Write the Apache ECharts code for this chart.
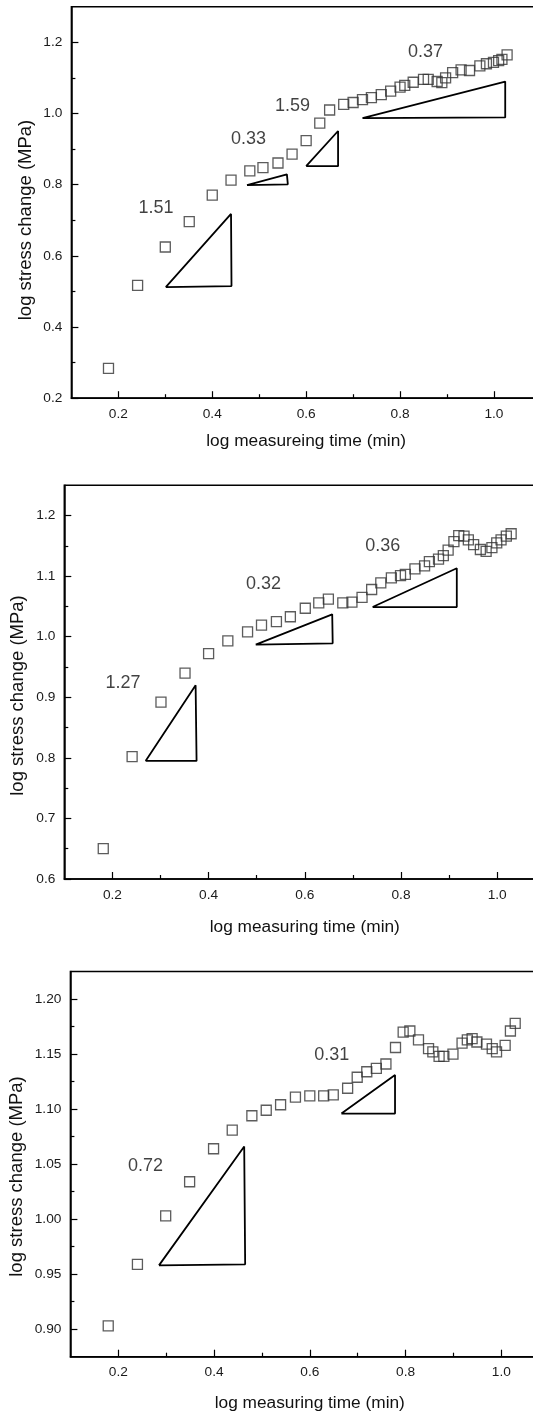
<!DOCTYPE html>
<html>
<head>
<meta charset="utf-8">
<script src="https://cdn.jsdelivr.net/npm/echarts@6/dist/echarts.min.js"></script>
<style>html,body{margin:0;padding:0;background:#fff;overflow:hidden}#c{width:533px;height:1412px}</style>
</head>
<body>
<div id="c"></div>
<script>
// ---------- Panel 1 ----------
const p1x = [0.179,0.241,0.300,0.351,0.400,0.440,0.480,0.508,0.540,0.570,0.600,0.629,0.650,0.680,0.700,0.720,0.739,0.760,0.780,0.800,0.810,0.828,0.850,0.860,0.879,0.889,0.897,0.912,0.930,0.948,0.970,0.984,0.999,1.010,1.017,1.028];
const p1y = [0.284,0.517,0.625,0.696,0.771,0.813,0.839,0.848,0.861,0.886,0.924,0.973,1.010,1.026,1.031,1.039,1.045,1.053,1.063,1.074,1.079,1.088,1.096,1.096,1.090,1.087,1.100,1.115,1.123,1.121,1.134,1.140,1.144,1.149,1.152,1.165];
const p1Tri = [
  [[0.301,0.512],[0.441,0.515],[0.440,0.718],[0.301,0.512]],
  [[0.474,0.799],[0.561,0.801],[0.559,0.829],[0.474,0.799]],
  [[0.600,0.852],[0.668,0.852],[0.668,0.951],[0.600,0.852]],
  [[0.720,0.987],[1.024,0.989],[1.024,1.090],[0.720,0.987]]
];
const p1Labels = ["1.51","0.33","1.59","0.37"];
const p1LabelPos = [[0.280,0.735],[0.477,0.927],[0.571,1.022],[0.854,1.173]];

// ---------- Panel 2 ----------
const p2x = [0.181,0.241,0.301,0.351,0.400,0.440,0.481,0.510,0.541,0.570,0.601,0.629,0.649,0.679,0.698,0.719,0.739,0.758,0.780,0.799,0.809,0.829,0.849,0.859,0.878,0.888,0.898,0.910,0.920,0.931,0.940,0.951,0.965,0.977,0.989,0.999,1.008,1.019,1.029];
const p2y = [0.650,0.802,0.892,0.940,0.972,0.993,1.008,1.019,1.025,1.033,1.047,1.056,1.062,1.056,1.057,1.065,1.078,1.089,1.097,1.101,1.103,1.112,1.117,1.124,1.128,1.134,1.143,1.157,1.167,1.166,1.160,1.152,1.144,1.141,1.147,1.155,1.160,1.166,1.170];
const p2Tri = [
  [[0.269,0.795],[0.375,0.795],[0.373,0.920],[0.269,0.795]],
  [[0.498,0.987],[0.658,0.989],[0.657,1.037],[0.498,0.987]],
  [[0.741,1.049],[0.916,1.049],[0.916,1.113],[0.741,1.049]]
];
const p2Labels = ["1.27","0.32","0.36"];
const p2LabelPos = [[0.222,0.923],[0.514,1.087],[0.762,1.149]];

// ---------- Panel 3 ----------
const p3x = [0.179,0.240,0.299,0.349,0.399,0.438,0.479,0.509,0.539,0.570,0.600,0.629,0.649,0.679,0.699,0.719,0.739,0.759,0.779,0.795,0.809,0.827,0.848,0.857,0.870,0.880,0.899,0.918,0.929,0.939,0.949,0.969,0.981,0.990,1.008,1.019,1.029];
const p3y = [0.903,0.959,1.003,1.034,1.064,1.081,1.094,1.099,1.104,1.111,1.112,1.112,1.113,1.119,1.129,1.134,1.137,1.141,1.156,1.170,1.171,1.163,1.155,1.152,1.148,1.148,1.150,1.160,1.163,1.164,1.161,1.159,1.155,1.152,1.158,1.171,1.178];
const p3Tri = [
  [[0.285,0.958],[0.465,0.959],[0.463,1.066],[0.285,0.958]],
  [[0.666,1.096],[0.778,1.096],[0.778,1.131],[0.666,1.096]]
];
const p3Labels = ["0.72","0.31"];
const p3LabelPos = [[0.257,1.048],[0.646,1.149]];

// ---------- Axis ticks ----------
const xMajor = [0.2,0.4,0.6,0.8,1.0];
const xMinor = [0.3,0.5,0.7,0.9];
const y1Major = [0.2,0.4,0.6,0.8,1.0,1.2];
const y1Minor = [0.3,0.5,0.7,0.9,1.1];
const y2Major = [0.6,0.7,0.8,0.9,1.0,1.1,1.2];
const y2Minor = [0.65,0.75,0.85,0.95,1.05,1.15];
const y3Major = [0.90,0.95,1.00,1.05,1.10,1.15,1.20];
const y3Minor = [0.925,0.975,1.025,1.075,1.125,1.175];

const xTitle1 = "log measureing time (min)";
const xTitle2 = "log measuring time (min)";
const yTitle = "log stress change (MPa)";

const FONT = "'Liberation Sans', Arial, sans-serif";

const panels = [
  {grid:{left:71.4, top:6.8, width:469.5, height:391.4}, xmin:0.1,xmax:1.1, ymin:0.2,ymax:1.3,
   yMajor:y1Major, yMinor:y1Minor, ydec:1, xName:xTitle1, xGap:35, yTitlePos:[26.3,220],
   px:p1x, py:p1y, tri:p1Tri, labels:p1Labels, labelPos:p1LabelPos},
  {grid:{left:64.3, top:485.3, width:481, height:393.7}, xmin:0.1,xmax:1.1, ymin:0.6,ymax:1.25,
   yMajor:y2Major, yMinor:y2Minor, ydec:1, xName:xTitle2, xGap:40, yTitlePos:[17.8,695.5],
   px:p2x, py:p2y, tri:p2Tri, labels:p2Labels, labelPos:p2LabelPos},
  {grid:{left:70.4, top:971.6, width:478.8, height:385.1}, xmin:0.1,xmax:1.1, ymin:0.875,ymax:1.225,
   yMajor:y3Major, yMinor:y3Minor, ydec:2, xName:xTitle2, xGap:38, yTitlePos:[17,1176.5],
   px:p3x, py:p3y, tri:p3Tri, labels:p3Labels, labelPos:p3LabelPos}
];

const grids=[], xAxes=[], yAxes=[], series=[], graphics=[];
panels.forEach((p,i)=>{
  grids.push(Object.assign({show:true, borderColor:'#000', borderWidth:1.5, backgroundColor:'transparent',
    outerBoundsMode:'none', containLabel:false}, p.grid));
  const xi = xAxes.length, yi = yAxes.length;
  xAxes.push({
    type:'value', gridIndex:i, position:'bottom', min:p.xmin, max:p.xmax,
    axisLine:{show:true, lineStyle:{color:'#000', width:1.5}},
    axisTick:{show:true, inside:true, length:7, customValues:xMajor, lineStyle:{color:'#000', width:1.2}},
    axisLabel:{show:true, customValues:xMajor, formatter:v=>v.toFixed(1), color:'#1a1a1a', fontSize:13.7, fontFamily:FONT, margin:9},
    splitLine:{show:false},
    name:p.xName, nameLocation:'middle', nameGap:p.xGap,
    nameTextStyle:{fontSize:17.3, color:'#111', fontFamily:FONT}
  });
  xAxes.push({
    type:'value', gridIndex:i, position:'bottom', min:p.xmin, max:p.xmax,
    axisLine:{show:false},
    axisTick:{show:true, inside:true, length:4, customValues:xMinor, lineStyle:{color:'#000', width:1.2}},
    axisLabel:{show:false}, splitLine:{show:false}
  });
  yAxes.push({
    type:'value', gridIndex:i, position:'left', min:p.ymin, max:p.ymax,
    axisLine:{show:true, lineStyle:{color:'#000', width:1.5}},
    axisTick:{show:true, inside:true, length:7, customValues:p.yMajor, lineStyle:{color:'#000', width:1.2}},
    axisLabel:{show:true, customValues:p.yMajor, formatter:v=>v.toFixed(p.ydec), color:'#1a1a1a', fontSize:13.7, fontFamily:FONT, margin:9},
    splitLine:{show:false}
  });
  yAxes.push({
    type:'value', gridIndex:i, position:'left', min:p.ymin, max:p.ymax,
    axisLine:{show:false},
    axisTick:{show:true, inside:true, length:4, customValues:p.yMinor, lineStyle:{color:'#000', width:1.2}},
    axisLabel:{show:false}, splitLine:{show:false}
  });
  graphics.push({
    type:'text', x:p.yTitlePos[0], y:p.yTitlePos[1], rotation:Math.PI/2,
    style:{text:yTitle, fontSize:18.5, fontFamily:FONT, fill:'#111', textAlign:'center', textVerticalAlign:'middle'}
  });
  // data
  series.push({
    type:'scatter', xAxisIndex:xi, yAxisIndex:yi, symbol:'rect', symbolSize:10,
    itemStyle:{color:'rgba(255,255,255,0)', borderColor:'#333', borderWidth:1.3},
    data:p.px.map((x,k)=>[x,p.py[k]]), z:3
  });
  p.tri.forEach(t=>{
    series.push({
      type:'line', xAxisIndex:xi, yAxisIndex:yi, data:t, symbol:'none',
      lineStyle:{color:'#000', width:1.8}, z:2
    });
  });
  series.push({
    type:'scatter', xAxisIndex:xi, yAxisIndex:yi, symbolSize:1,
    itemStyle:{color:'rgba(0,0,0,0)'},
    data:p.labelPos.map((q,k)=>({value:q, name:p.labels[k]})),
    label:{show:true, position:'inside', formatter:d=>d.name, fontSize:18, color:'#111',
      textBorderWidth:0, fontFamily:FONT}
  });
});

const chart = echarts.init(document.getElementById('c'), null, {renderer:'canvas'});
chart.setOption({
  animation:false,
  backgroundColor:'#fff',
  grid:grids, xAxis:xAxes, yAxis:yAxes, series:series, graphic:graphics
});
</script>
</body>
</html>
